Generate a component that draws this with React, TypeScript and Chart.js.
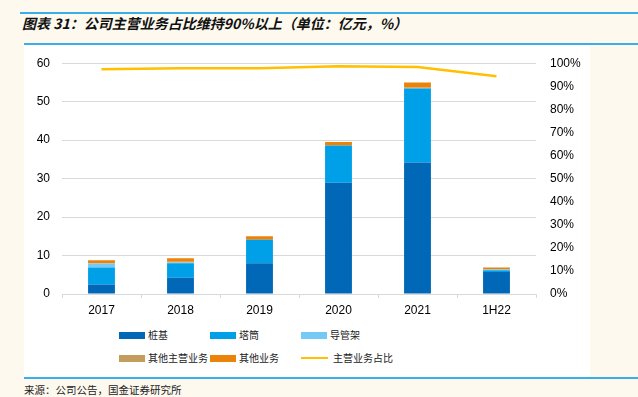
import React, { useEffect, useRef } from "react";
import { Chart, registerables } from "chart.js";

Chart.register(...registerables);

const categories = ["2017", "2018", "2019", "2020", "2021", "1H22"];
const pileFoundation = [2.5, 4.2, 8.0, 28.9, 34.2, 5.7];
const towerTube = [4.4, 3.8, 6.1, 9.7, 19.2, 0.5];
const jacket = [1.0, 0.2, 0.0, 0.0, 0.0, 0.2];
const otherMain = [0.1, 0.2, 0.0, 0.0, 0.3, 0.0];
const otherBusiness = [0.8, 0.9, 0.9, 0.9, 1.3, 0.5];
const mainShare = [97.4, 97.8, 97.8, 98.7, 98.4, 94.3];
const leftTicks = [0, 10, 20, 30, 40, 50, 60];
const rightTicks = [0, 10, 20, 30, 40, 50, 60, 70, 80, 90, 100];

const seriesNames = ["桩基", "塔筒", "导管架", "其他主营业务", "其他业务", "主营业务占比"];
const seriesColors = ["#0068B7", "#00A0E9", "#75C9F5", "#C29D5B", "#EB8209", "#FFC000"];

const numFont = { family: "'Liberation Sans', Arial, sans-serif", size: 12 };
const cjk = "'Noto Sans CJK SC', sans-serif";

export default function App() {
  const ref = useRef<HTMLCanvasElement>(null);

  useEffect(() => {
    document.body.style.margin = "0";
    const ctx = ref.current!;
    const barSets = [pileFoundation, towerTube, jacket, otherMain, otherBusiness].map((d, i) => ({
      type: "bar" as const,
      label: seriesNames[i],
      data: d,
      backgroundColor: seriesColors[i],
      yAxisID: "y",
      stack: "s",
      barPercentage: 0.34,
      categoryPercentage: 1,
    }));
    const chart = new Chart(ctx, {
      type: "bar",
      data: {
        labels: categories,
        datasets: [
          {
            type: "line" as const,
            label: seriesNames[5],
            data: mainShare,
            borderColor: seriesColors[5],
            borderWidth: 2.5,
            pointRadius: 0,
            yAxisID: "y1",
            tension: 0,
          } as any,
          ...barSets,
        ],
      },
      options: {
        animation: false,
        responsive: false,
        maintainAspectRatio: false,
        layout: { padding: { top: 15, left: 0, right: 0, bottom: 0 } },
        plugins: { legend: { display: false }, tooltip: { enabled: false } },
        scales: {
          x: {
            stacked: true,
            offset: true,
            grid: {
              offset: true,
              drawOnChartArea: false,
              drawTicks: true,
              tickLength: 4,
              color: "#D9D9D9",
            },
            border: { display: true, color: "#D9D9D9" },
            ticks: { font: numFont, color: "#000", padding: 5, maxRotation: 0 },
            afterFit: (s: any) => {
              s.height = 27;
            },
          },
          y: {
            position: "left",
            stacked: true,
            min: 0,
            max: 60,
            afterBuildTicks: (s: any) => {
              s.ticks = leftTicks.map((v) => ({ value: v }));
            },
            grid: { color: "#D9D9D9", lineWidth: 1, drawTicks: false },
            border: { display: false },
            ticks: { font: numFont, color: "#000", padding: 12 },
            afterFit: (s: any) => {
              s.width = 38;
            },
          },
          y1: {
            position: "right",
            min: 0,
            max: 100,
            afterBuildTicks: (s: any) => {
              s.ticks = rightTicks.map((v) => ({ value: v }));
            },
            grid: { display: false, drawTicks: false },
            border: { display: false },
            ticks: {
              font: numFont,
              color: "#000",
              padding: 14,
              callback: (v: any) => v + "%",
            },
            afterFit: (s: any) => {
              s.width = 54;
            },
          },
        },
      } as any,
    });
    return () => chart.destroy();
  }, []);

  const legendItem = (i: number, left: number, top: number) => (
    <div key={i} style={{ position: "absolute", left, top, height: 14, display: "flex", alignItems: "center" }}>
      {i === 5 ? (
        <div style={{ width: 27, height: 2.5, background: seriesColors[i] }} />
      ) : (
        <div style={{ width: 26, height: 7, background: seriesColors[i] }} />
      )}
      <span style={{ marginLeft: i === 5 ? 5 : 3, fontFamily: cjk, fontSize: 10, color: "#222", lineHeight: "14px", whiteSpace: "nowrap" }}>
        {seriesNames[i]}
      </span>
    </div>
  );

  return (
    <div style={{ position: "relative", width: 638, height: 397, background: "#FDF9EF", overflow: "hidden" }}>
      <div style={{ position: "absolute", left: 20, top: 12, width: 618, height: 2, background: "#3AAEE8" }} />
      <div
        style={{
          position: "absolute",
          left: 22,
          top: 13,
          fontFamily: cjk,
          fontWeight: 700,
          fontStyle: "italic",
          fontSize: 14,
          lineHeight: "20px",
          color: "#111",
          whiteSpace: "nowrap",
        }}
      >
        图表 31：公司主营业务占比维持90%以上（单位：亿元，%）
      </div>
      <div style={{ position: "absolute", left: 24, top: 45, width: 566, height: 332, background: "#FFFFFF" }} />
      <div style={{ position: "absolute", left: 24, top: 43, width: 614, height: 2, background: "#3AAEE8" }} />
      <div style={{ position: "absolute", left: 24, top: 42 }}>
        <canvas ref={ref} width={566} height={279} style={{ display: "block", width: 566, height: 279 }} />
      </div>
      {legendItem(0, 119, 328)}
      {legendItem(1, 210, 328)}
      {legendItem(2, 301, 328)}
      {legendItem(3, 119, 351)}
      {legendItem(4, 210, 351)}
      {legendItem(5, 301, 351)}
      <div style={{ position: "absolute", left: 24, top: 377, width: 614, height: 2, background: "#3AAEE8" }} />
      <div
        style={{
          position: "absolute",
          left: 24,
          top: 383,
          fontFamily: cjk,
          fontSize: 10.5,
          lineHeight: "14px",
          color: "#222",
          whiteSpace: "nowrap",
        }}
      >
        来源：公司公告，国金证券研究所
      </div>
    </div>
  );
}
